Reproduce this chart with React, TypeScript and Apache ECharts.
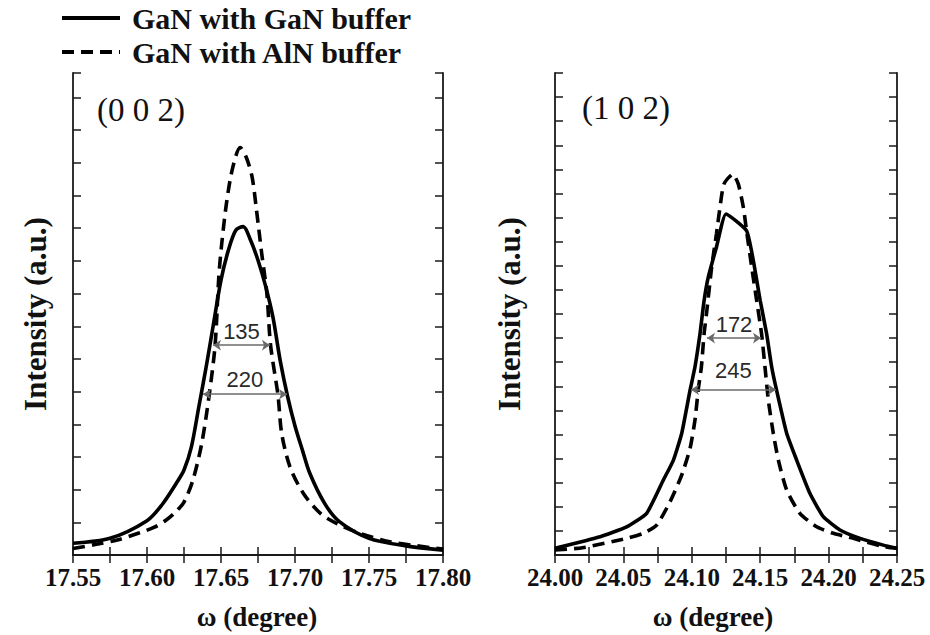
import React, { useEffect, useRef } from "react";
import * as echarts from "echarts";

const FONT_SERIF = '"Liberation Serif", "Times New Roman", serif';
const FONT_SANS = '"Liberation Sans", Arial, sans-serif';

const legendNames = ["GaN with GaN buffer", "GaN with AlN buffer"];
const panelTitles = ["(0 0 2)", "(1 0 2)"];
const xAxisTitle = "ω (degree)";
const yAxisTitle = "Intensity (a.u.)";

const xTicksLeft = ["17.55", "17.60", "17.65", "17.70", "17.75", "17.80"];
const xTicksRight = ["24.00", "24.05", "24.10", "24.15", "24.20", "24.25"];

// (0 0 2) GaN with GaN buffer (solid)
const leftSolidX = [17.55, 17.575, 17.6, 17.61, 17.62, 17.625, 17.63, 17.635, 17.64, 17.645, 17.65, 17.655, 17.66, 17.665, 17.67, 17.675, 17.68, 17.685, 17.69, 17.695, 17.7, 17.705, 17.71, 17.72, 17.73, 17.75, 17.775, 17.8];
const leftSolidY = [0.36, 0.51, 1.05, 1.53, 2.21, 2.6, 3.31, 4.53, 5.76, 7.09, 8.41, 9.33, 9.94, 10.05, 9.63, 9.02, 8.25, 7.3, 5.95, 4.85, 3.95, 3.21, 2.5, 1.58, 1.02, 0.51, 0.28, 0.15];

// (0 0 2) GaN with AlN buffer (dashed)
const leftDashX = [17.55, 17.565, 17.58, 17.595, 17.605, 17.613, 17.62, 17.625, 17.631, 17.637, 17.642, 17.646, 17.6485, 17.6505, 17.654, 17.658, 17.663, 17.667, 17.671, 17.674, 17.6775, 17.681, 17.6835, 17.6885, 17.691, 17.6966, 17.7056, 17.717, 17.728, 17.744, 17.765, 17.8];
const leftDashY = [0.2, 0.32, 0.46, 0.68, 0.85, 1.07, 1.35, 1.62, 2.29, 3.42, 4.89, 6.42, 8.5, 9.53, 10.86, 11.87, 12.47, 12.18, 11.57, 10.55, 9.23, 8.0, 6.42, 4.89, 3.72, 2.7, 1.89, 1.28, 0.97, 0.66, 0.4, 0.18];

// (1 0 2) GaN with GaN buffer (solid)
const rightSolidX = [24.0, 24.033, 24.0524, 24.067, 24.0792, 24.0865, 24.0926, 24.0987, 24.1023, 24.106, 24.109, 24.112, 24.118, 24.125, 24.14, 24.145, 24.15, 24.1547, 24.1584, 24.162, 24.1694, 24.1767, 24.1864, 24.1961, 24.2083, 24.223, 24.24, 24.25];
const rightSolidY = [0.28, 0.76, 1.17, 1.73, 3.11, 3.93, 5.04, 6.83, 7.8, 9.18, 10.56, 11.52, 12.77, 14.15, 13.46, 12.21, 10.56, 9.18, 7.8, 6.83, 5.04, 3.93, 2.55, 1.59, 1.04, 0.69, 0.41, 0.28];

// (1 0 2) GaN with AlN buffer (dashed)
const rightDashX = [24.0, 24.02, 24.0524, 24.0646, 24.0743, 24.0841, 24.0926, 24.0987, 24.1023, 24.1048, 24.107, 24.109, 24.111, 24.1145, 24.118, 24.1206, 24.1235, 24.13, 24.134, 24.1377, 24.14, 24.1438, 24.1474, 24.151, 24.1535, 24.156, 24.1596, 24.1633, 24.1694, 24.179, 24.1913, 24.2035, 24.218, 24.24, 24.25];
const rightDashY = [0.21, 0.3, 0.69, 0.9, 1.24, 2.21, 3.31, 4.42, 5.59, 6.9, 7.8, 9.18, 10.14, 11.94, 13.32, 14.42, 15.39, 15.8, 15.39, 14.42, 13.46, 11.94, 10.56, 9.18, 7.8, 6.4, 5.04, 3.93, 2.69, 1.73, 1.17, 0.9, 0.69, 0.35, 0.28];

// FWHM annotations (arcsec labels), start/end ω and intensity level
const leftFwhmLabels = ["135", "220"];
const leftFwhmX1 = [17.6446, 17.6378];
const leftFwhmX2 = [17.6831, 17.6946];
const leftFwhmY = [6.42, 4.92];
const rightFwhmLabels = ["172", "245"];
const rightFwhmX1 = [24.1111, 24.0994];
const rightFwhmX2 = [24.1506, 24.1615];
const rightFwhmY = [9.0, 6.86];

const zip = (xs: number[], ys: number[]) => xs.map((x, i) => [x, ys[i]]);

function fwhmLines(labels: string[], x1: number[], x2: number[], y: number[], dist: number[]) {
  return labels.map((l, i) => [
    { coord: [x1[i], y[i]], label: { formatter: l, distance: dist[i] } },
    { coord: [x2[i], y[i]] },
  ]);
}

function tickFormatter(labels: string[]) {
  return (v: number) => {
    const f = labels.find((l) => Math.abs(parseFloat(l) - v) < 1e-6);
    return f ? f : "";
  };
}

export default function App() {
  const ref = useRef<HTMLDivElement>(null);
  useEffect(() => {
    if (!ref.current) return;
    const chart = echarts.init(ref.current, null, { renderer: "svg" });
    const axisLine = { show: true, lineStyle: { color: "#1a1a1a", width: 1.8 } };
    const tick = { show: true, inside: true, length: 8, lineStyle: { color: "#1a1a1a", width: 1.5 } };
    const xBase = (grid: number, min: number, max: number) => ({
      type: "value",
      gridIndex: grid,
      min,
      max,
      interval: 0.025,
      splitLine: { show: false },
      axisLine,
      axisTick: tick,
    });
    const yBase = (grid: number, max: number) => ({
      type: "value",
      gridIndex: grid,
      min: 0,
      max,
      interval: 1,
      splitLine: { show: false },
      axisLine,
      axisTick: tick,
      axisLabel: { show: false },
    });
    const axisLabelStyle = {
      fontFamily: FONT_SERIF,
      fontWeight: "bold",
      fontSize: 25,
      color: "#111",
      margin: 10,
    };
    const nameStyleX = (padRight: number) => ({
      fontFamily: FONT_SERIF,
      fontWeight: "bold",
      fontSize: 27,
      color: "#111",
      padding: [0, padRight, 0, 0],
    });
    const nameStyleY = {
      fontFamily: FONT_SERIF,
      fontWeight: "bold",
      fontSize: 31,
      color: "#111",
    };
    const markLineBase = {
      silent: true,
      symbol: ["arrow", "arrow"],
      symbolSize: 8,
      lineStyle: { color: "#6a6a6a", width: 1.5, type: "solid" },
      label: {
        show: true,
        position: "middle",
        fontFamily: FONT_SANS,
        fontSize: 22,
        color: "#2a2a2a",
      },
    };
    const solid = { color: "#000", width: 3.6, type: "solid" };
    const dashed = { color: "#000", width: 3.6, type: [12, 7] };

    chart.setOption({
      animation: false,
      backgroundColor: "#fff",
      legend: {
        data: legendNames,
        orient: "vertical",
        left: 55,
        top: -2,
        itemWidth: 58,
        itemHeight: 14,
        itemGap: 4,
        itemStyle: { opacity: 0 },
        lineStyle: { width: 4 },
        textStyle: {
          fontFamily: FONT_SERIF,
          fontWeight: "bold",
          fontSize: 30,
          color: "#111",
          padding: [0, 0, 0, 7],
        },
      },
      grid: [
        { left: 73, top: 73, width: 370, height: 482 },
        { left: 555, top: 73, width: 342, height: 482 },
      ],
      xAxis: [
        {
          ...xBase(0, 17.55, 17.8),
          position: "bottom",
          axisLabel: { ...axisLabelStyle, formatter: tickFormatter(xTicksLeft) },
          name: xAxisTitle,
          nameLocation: "middle",
          nameGap: 48,
          nameTextStyle: nameStyleX(2),
        },
        { ...xBase(0, 17.55, 17.8), position: "top", axisLabel: { show: false } },
        {
          ...xBase(1, 24.0, 24.25),
          position: "bottom",
          axisLabel: { ...axisLabelStyle, formatter: tickFormatter(xTicksRight) },
          name: xAxisTitle,
          nameLocation: "middle",
          nameGap: 48,
          nameTextStyle: nameStyleX(26),
        },
        { ...xBase(1, 24.0, 24.25), position: "top", axisLabel: { show: false } },
      ],
      yAxis: [
        {
          ...yBase(0, 14.75),
          position: "left",
          name: yAxisTitle,
          nameLocation: "middle",
          nameGap: 22,
          nameTextStyle: nameStyleY,
        },
        { ...yBase(0, 14.75), position: "right" },
        {
          ...yBase(1, 20),
          position: "left",
          name: yAxisTitle,
          nameLocation: "middle",
          nameGap: 30,
          nameTextStyle: nameStyleY,
        },
        { ...yBase(1, 20), position: "right" },
      ],
      graphic: [
        {
          type: "text",
          left: 97,
          top: 93,
          style: { text: panelTitles[0], font: `33px ${FONT_SERIF}`, fill: "#111" },
        },
        {
          type: "text",
          left: 582,
          top: 91,
          style: { text: panelTitles[1], font: `33px ${FONT_SERIF}`, fill: "#111" },
        },
      ],
      series: [
        {
          name: legendNames[0],
          type: "line",
          xAxisIndex: 0,
          yAxisIndex: 0,
          data: zip(leftSolidX, leftSolidY),
          symbol: "none",
          smooth: 0.3,
          lineStyle: solid,
          itemStyle: { color: "#000" },
          z: 3,
        },
        {
          name: legendNames[1],
          type: "line",
          xAxisIndex: 0,
          yAxisIndex: 0,
          data: zip(leftDashX, leftDashY),
          symbol: "none",
          smooth: 0.3,
          lineStyle: dashed,
          itemStyle: { color: "#000" },
          z: 3,
          markLine: { ...markLineBase, data: fwhmLines(leftFwhmLabels, leftFwhmX1, leftFwhmX2, leftFwhmY, [3, 4]) },
        },
        {
          name: legendNames[0],
          type: "line",
          xAxisIndex: 2,
          yAxisIndex: 2,
          data: zip(rightSolidX, rightSolidY),
          symbol: "none",
          smooth: 0.15,
          lineStyle: solid,
          itemStyle: { color: "#000" },
          z: 3,
        },
        {
          name: legendNames[1],
          type: "line",
          xAxisIndex: 2,
          yAxisIndex: 2,
          data: zip(rightDashX, rightDashY),
          symbol: "none",
          smooth: 0.2,
          lineStyle: dashed,
          itemStyle: { color: "#000" },
          z: 3,
          markLine: { ...markLineBase, data: fwhmLines(rightFwhmLabels, rightFwhmX1, rightFwhmX2, rightFwhmY, [3, 8]) },
        },
      ],
    });
    return () => chart.dispose();
  }, []);
  return (
    <div
      ref={ref}
      style={{ position: "fixed", left: 0, top: 0, width: 930, height: 635, background: "#fff" }}
    />
  );
}
